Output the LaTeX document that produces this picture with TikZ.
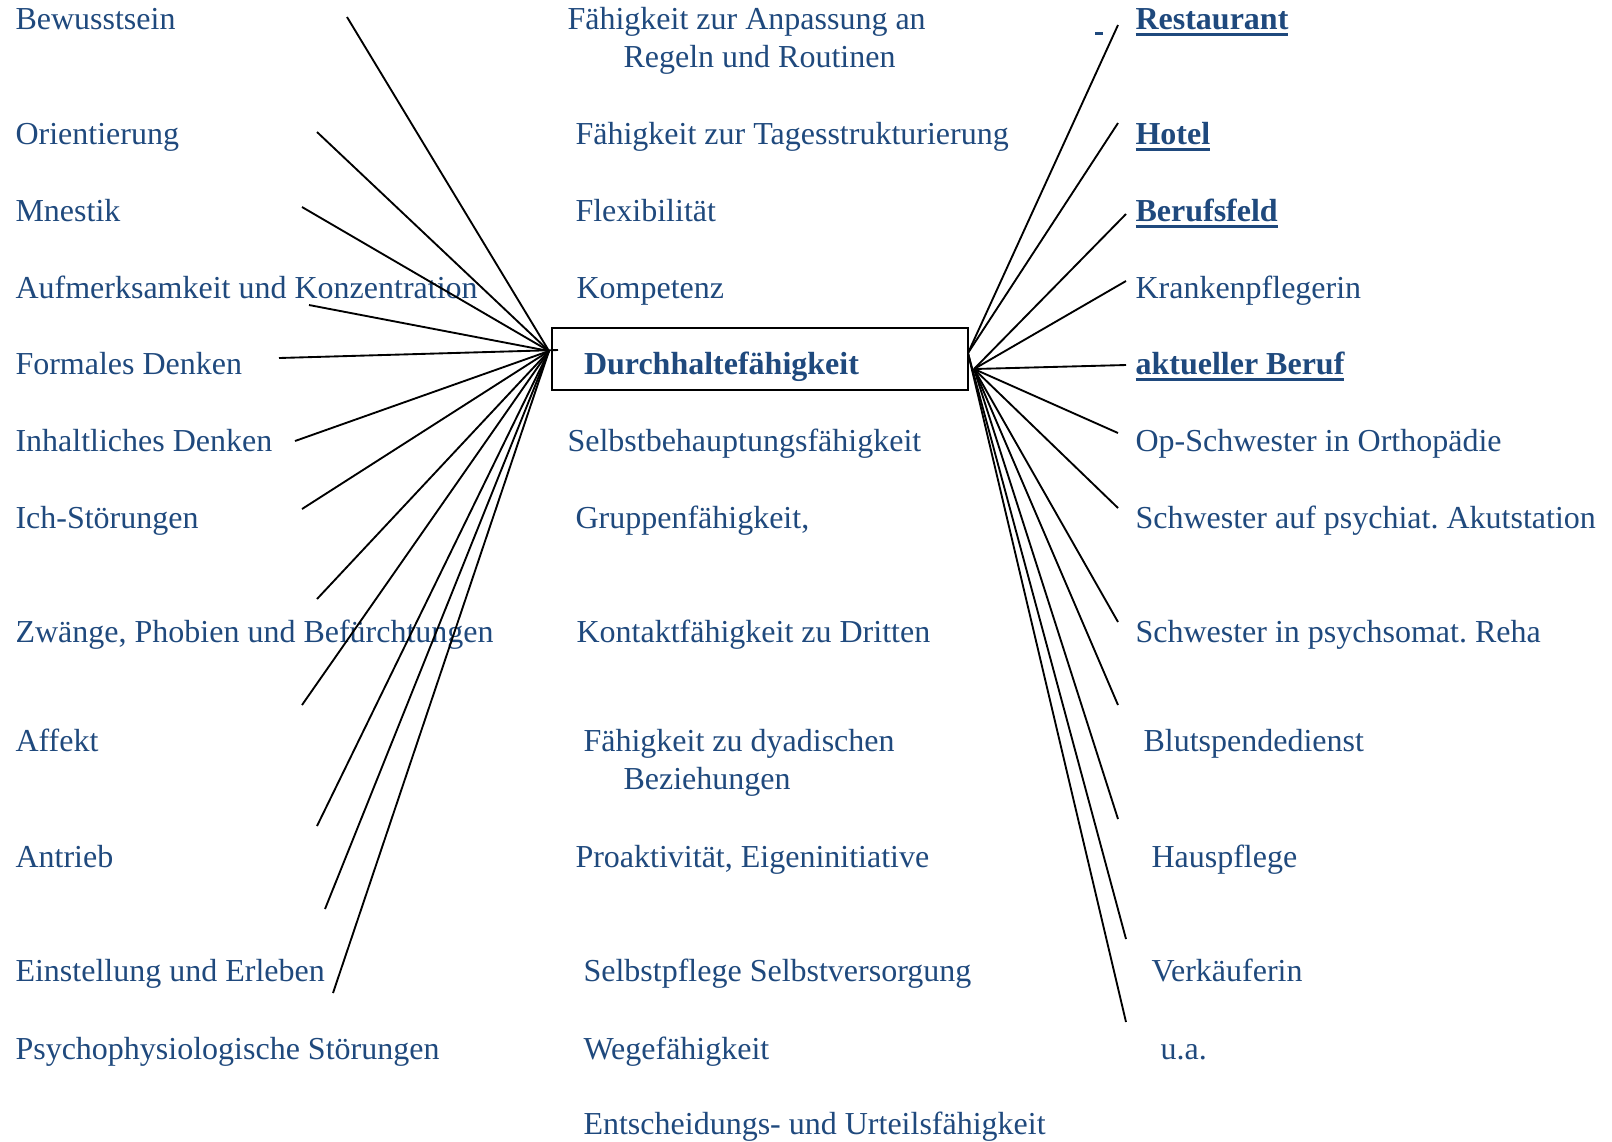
\documentclass[tikz,border=0pt]{standalone}
\usepackage{fontspec}
\setmainfont{Liberation Serif}
\frenchspacing
\definecolor{textblue}{HTML}{1F497D}
% thick underline for the job fields
\newcommand{\markul}[1]{\setbox0=\hbox{#1}\rlap{\rule[-2.5pt]{\wd0}{1pt}}\box0}

\begin{document}
\begin{tikzpicture}[x=0.375pt,y=-0.375pt]
	\tikzstyle{label_text} = [anchor=base west, inner sep=0pt, text=textblue, font=\fontsize{12}{14.25}\selectfont]
	\tikzstyle{job_field} = [label_text, font=\fontsize{12}{14.25}\selectfont\bfseries]
	\tikzstyle{main_box} = [rectangle, draw, line width=0.75pt, anchor=base west, inner xsep=12pt, inner ysep=0pt, text width=132pt, text height=17.25pt, text depth=6pt, align=left, text=textblue, font=\fontsize{12}{14.25}\selectfont\bfseries]
	\tikzstyle{spoke} = [line width=0.7pt]

	\useasboundingbox (0,0) rectangle (1612,1141);

	% Psychopathological findings
	\node (bew) [label_text] at (15,29) {Bewusstsein};
	\node (ori) [label_text] at (15,144) {Orientierung};
	\node (mne) [label_text] at (15,221) {Mnestik};
	\node (auf) [label_text] at (15,298) {Aufmerksamkeit und Konzentration};
	\node (form) [label_text] at (15,374) {Formales Denken};
	\node (inh) [label_text] at (15,451) {Inhaltliches Denken};
	\node (ich) [label_text] at (15,528) {Ich-Störungen};
	\node (zwa) [label_text] at (15,642) {Zwänge, Phobien und Befürchtungen};
	\node (aff) [label_text] at (15,751) {Affekt};
	\node (ant) [label_text] at (15,867) {Antrieb};
	\node (ein) [label_text] at (15,981) {Einstellung und Erleben};
	\node (psy) [label_text] at (15,1059) {Psychophysiologische Störungen};

	% Capacities (two-line nodes sit on their last line)
	\node (anp) [label_text, align=left] at (567,67) {Fähigkeit zur Anpassung an\\\hspace*{21pt}Regeln und Routinen};
	\node (tag) [label_text] at (575,144) {Fähigkeit zur Tagesstrukturierung};
	\node (flex) [label_text] at (575,221) {Flexibilität};
	\node (komp) [label_text] at (576,298) {Kompetenz};
	\node (durch) [main_box] at (551,374) {Durchhaltefähigkeit};
	\node (selbst) [label_text] at (567,451) {Selbstbehauptungsfähigkeit};
	\node (grup) [label_text] at (575,528) {Gruppenfähigkeit,};
	\node (kont) [label_text] at (576,642) {Kontaktfähigkeit zu Dritten};
	\node (dyad) [label_text, align=left] at (583,789) {Fähigkeit zu dyadischen\\\hspace*{15pt}Beziehungen};
	\node (proakt) [label_text] at (575,867) {Proaktivität, Eigeninitiative};
	\node (pflege) [label_text] at (583,981) {Selbstpflege Selbstversorgung};
	\node (wege) [label_text] at (583,1059) {Wegefähigkeit};
	\node (entsch) [label_text] at (583,1134) {Entscheidungs- und Urteilsfähigkeit};

	% Job fields
	\fill[textblue] (1095,32) rectangle (1103,35);
	\node (rest) [job_field] at (1135,29) {\markul{Restaurant}};
	\node (hotel) [job_field] at (1135,144) {\markul{Hotel}};
	\node (beruf) [job_field] at (1135,221) {\markul{Berufsfeld}};
	\node (kpfl) [label_text] at (1135,298) {Krankenpflegerin};
	\node (akt) [job_field] at (1135,374) {\markul{aktueller Beruf}};
	\node (ops) [label_text] at (1135,451) {Op-Schwester in Orthopädie};
	\node (akut) [label_text] at (1135,528) {Schwester auf psychiat. Akutstation};
	\node (reha) [label_text] at (1135,642) {Schwester in psychsomat. Reha};
	\node (blut) [label_text] at (1143,751) {Blutspendedienst};
	\node (haus) [label_text] at (1151,867) {Hauspflege};
	\node (verk) [label_text] at (1151,981) {Verkäuferin};
	\node (ua) [label_text] at (1160,1059) {u.a.};

	% Hubs on the box
	\coordinate (hubL) at (549,351);
	\coordinate (hubLtip) at (558,350);
	\coordinate (hubR1) at (968,353);
	\coordinate (hubR2) at (974,369);

	% Free ends, left
	\coordinate (l1) at (347,17);
	\coordinate (l2) at (317,132);
	\coordinate (l3) at (302,207);
	\coordinate (l4) at (309,305);
	\coordinate (l5) at (279,358);
	\coordinate (l6) at (295,441);
	\coordinate (l7) at (302,509);
	\coordinate (l8) at (317,599);
	\coordinate (l9) at (302,705);
	\coordinate (l10) at (317,826);
	\coordinate (l11) at (325,909);
	\coordinate (l12) at (333,993);
	% Free ends, right
	\coordinate (r1) at (1118,25);
	\coordinate (r2) at (1118,123);
	\coordinate (r3) at (1126,214);
	\coordinate (r4) at (1126,281);
	\coordinate (r5) at (1126,365);
	\coordinate (r6) at (1118,433);
	\coordinate (r7) at (1118,508);
	\coordinate (r8) at (1118,622);
	\coordinate (r9) at (1118,705);
	\coordinate (r10) at (1118,819);
	\coordinate (r11) at (1126,939);
	\coordinate (r12) at (1126,1022);

	\foreach \i in {1,2,3,4,6,7,8,9,10,11,12}
	\draw[spoke] (l\i) -- (hubL);
	\draw[spoke] (l5) -- (hubLtip);
	\foreach \i in {1,2,11,12}
	\draw[spoke] (hubR1) -- (r\i);
	\foreach \i in {3,...,10}
	\draw[spoke] (hubR2) -- (r\i);
\end{tikzpicture}
\end{document}
